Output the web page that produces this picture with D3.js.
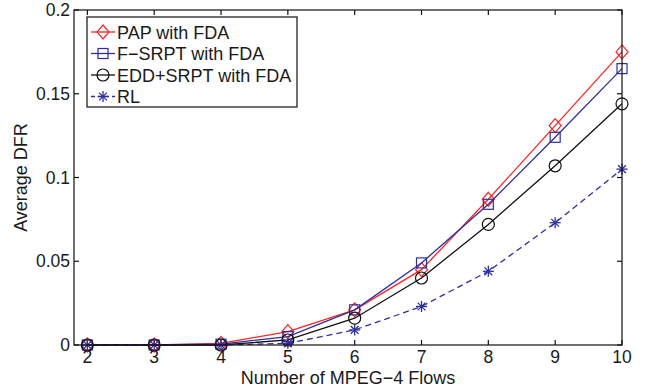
<!DOCTYPE html>
<html>
<head>
<meta charset="utf-8">
<script src="https://cdn.jsdelivr.net/npm/d3@7"></script>
<style>
  body { margin: 0; background: #fff; }
  text { font-family: "Liberation Sans", Arial, sans-serif; fill: #1a1a1a; }
</style>
</head>
<body>
<script>
// data
let flows = [2, 3, 4, 5, 6, 7, 8, 9, 10];
let pap   = [0, 0, 0.001, 0.008, 0.021, 0.045, 0.087, 0.131, 0.175];
let fsrpt = [0, 0, 0.0005, 0.005, 0.021, 0.049, 0.084, 0.124, 0.165];
let edd   = [0, 0, 0, 0.003, 0.016, 0.040, 0.072, 0.107, 0.144];
let rl    = [0, 0, 0, 0.001, 0.009, 0.023, 0.044, 0.073, 0.105];
let yTicks = [0, 0.05, 0.1, 0.15, 0.2];
let yTickLabels = ["0", "0.05", "0.1", "0.15", "0.2"];
let seriesNames = ["PAP with FDA", "F\u2212SRPT with FDA", "EDD+SRPT with FDA", "RL"];

let width = 646, height = 390;
let margin = { top: 10, right: 24, bottom: 45, left: 74 };

let svg = d3.select("body").append("svg")
    .attr("width", width)
    .attr("height", height);

let x = d3.scaleLinear().domain([1.8, 10]).range([margin.left, width - margin.right]);
let y = d3.scaleLinear().domain([0, 0.2]).range([height - margin.bottom, margin.top]);

let series = [
  { name: seriesNames[0], values: pap,   color: "#ff2424", marker: "diamond", dash: null },
  { name: seriesNames[1], values: fsrpt, color: "#2e2e9e", marker: "square",  dash: null },
  { name: seriesNames[2], values: edd,   color: "#111111", marker: "circle",  dash: null },
  { name: seriesNames[3], values: rl,    color: "#2e2e9e", marker: "star",    dash: "6,4" }
];

// axes box with inward ticks
let x0 = x.range()[0], x1 = x.range()[1], y0 = y.range()[0], y1 = y.range()[1];
let tickLen = 5;
let axes = svg.append("g").attr("stroke", "#111").attr("stroke-width", 1.2);

flows.forEach(f => {
  axes.append("line").attr("x1", x(f)).attr("x2", x(f)).attr("y1", y0).attr("y2", y0 - tickLen);
  axes.append("line").attr("x1", x(f)).attr("x2", x(f)).attr("y1", y1).attr("y2", y1 + tickLen);
});
yTicks.forEach(t => {
  axes.append("line").attr("x1", x0).attr("x2", x0 + tickLen).attr("y1", y(t)).attr("y2", y(t));
  axes.append("line").attr("x1", x1).attr("x2", x1 - tickLen).attr("y1", y(t)).attr("y2", y(t));
});

svg.selectAll(".xlab").data(flows).enter().append("text")
    .attr("x", d => x(d)).attr("y", y0 + 18)
    .attr("text-anchor", "middle").style("font-size", "17.5px")
    .text(d => d);

svg.selectAll(".ylab").data(yTicks).enter().append("text")
    .attr("x", x0 - 4).attr("y", d => y(d) + 6)
    .attr("text-anchor", "end").style("font-size", "17.5px")
    .text((d, i) => yTickLabels[i]);

svg.append("text")
    .attr("x", (x0 + x1) / 2).attr("y", 384)
    .attr("text-anchor", "middle").style("font-size", "18px")
    .text("Number of MPEG\u22124 Flows");

svg.append("text")
    .attr("transform", "translate(27," + ((y0 + y1) / 2) + ") rotate(-90)")
    .attr("text-anchor", "middle").style("font-size", "18px")
    .text("Average DFR");

// marker drawer
function drawMarker(g, type, cx, cy, color) {
  if (type === "diamond") {
    g.append("path").attr("d", "M" + cx + "," + (cy - 7) + "L" + (cx + 6) + "," + cy + "L" + cx + "," + (cy + 7) + "L" + (cx - 6) + "," + cy + "Z")
      .attr("fill", "none").attr("stroke", color).attr("stroke-width", 1.2);
  } else if (type === "square") {
    g.append("rect").attr("x", cx - 5).attr("y", cy - 5).attr("width", 10).attr("height", 10)
      .attr("fill", "none").attr("stroke", color).attr("stroke-width", 1.2);
  } else if (type === "circle") {
    g.append("circle").attr("cx", cx).attr("cy", cy).attr("r", 6)
      .attr("fill", "none").attr("stroke", color).attr("stroke-width", 1.2);
  } else {
    let r = 5.5;
    [0, 45, 90, 135].forEach(a => {
      let dx = r * Math.cos(a * Math.PI / 180), dy = r * Math.sin(a * Math.PI / 180);
      g.append("line").attr("x1", cx - dx).attr("y1", cy - dy).attr("x2", cx + dx).attr("y2", cy + dy)
        .attr("stroke", color).attr("stroke-width", 1.3);
    });
  }
}

let line = d3.line().x((d, i) => x(flows[i])).y(d => y(d));

series.forEach(s => {
  let g = svg.append("g");
  g.append("path").datum(s.values)
    .attr("d", line)
    .attr("fill", "none").attr("stroke", s.color).attr("stroke-width", 1.3)
    .attr("stroke-dasharray", s.dash);
  s.values.forEach((v, i) => drawMarker(g, s.marker, x(flows[i]), y(v), s.color));
});

// axes box on top
svg.append("rect")
    .attr("x", x0).attr("y", y1).attr("width", x1 - x0).attr("height", y0 - y1)
    .attr("fill", "none").attr("stroke", "#111").attr("stroke-width", 1.2);

// legend
let lg = svg.append("g");
lg.append("rect").attr("x", 87).attr("y", 17).attr("width", 210).attr("height", 90)
  .attr("fill", "#fff").attr("stroke", "#111").attr("stroke-width", 1.2);
series.forEach((s, i) => {
  let ly = 32 + i * 21.5;
  lg.append("line").attr("x1", 91).attr("x2", 115).attr("y1", ly).attr("y2", ly)
    .attr("stroke", s.color).attr("stroke-width", 1.3).attr("stroke-dasharray", s.dash ? "4,3" : null);
  drawMarker(lg, s.marker, 103, ly, s.color);
  lg.append("text").attr("x", 117).attr("y", ly + 6.5)
    .style("font-size", "18px").text(s.name);
});
</script>
</body>
</html>
